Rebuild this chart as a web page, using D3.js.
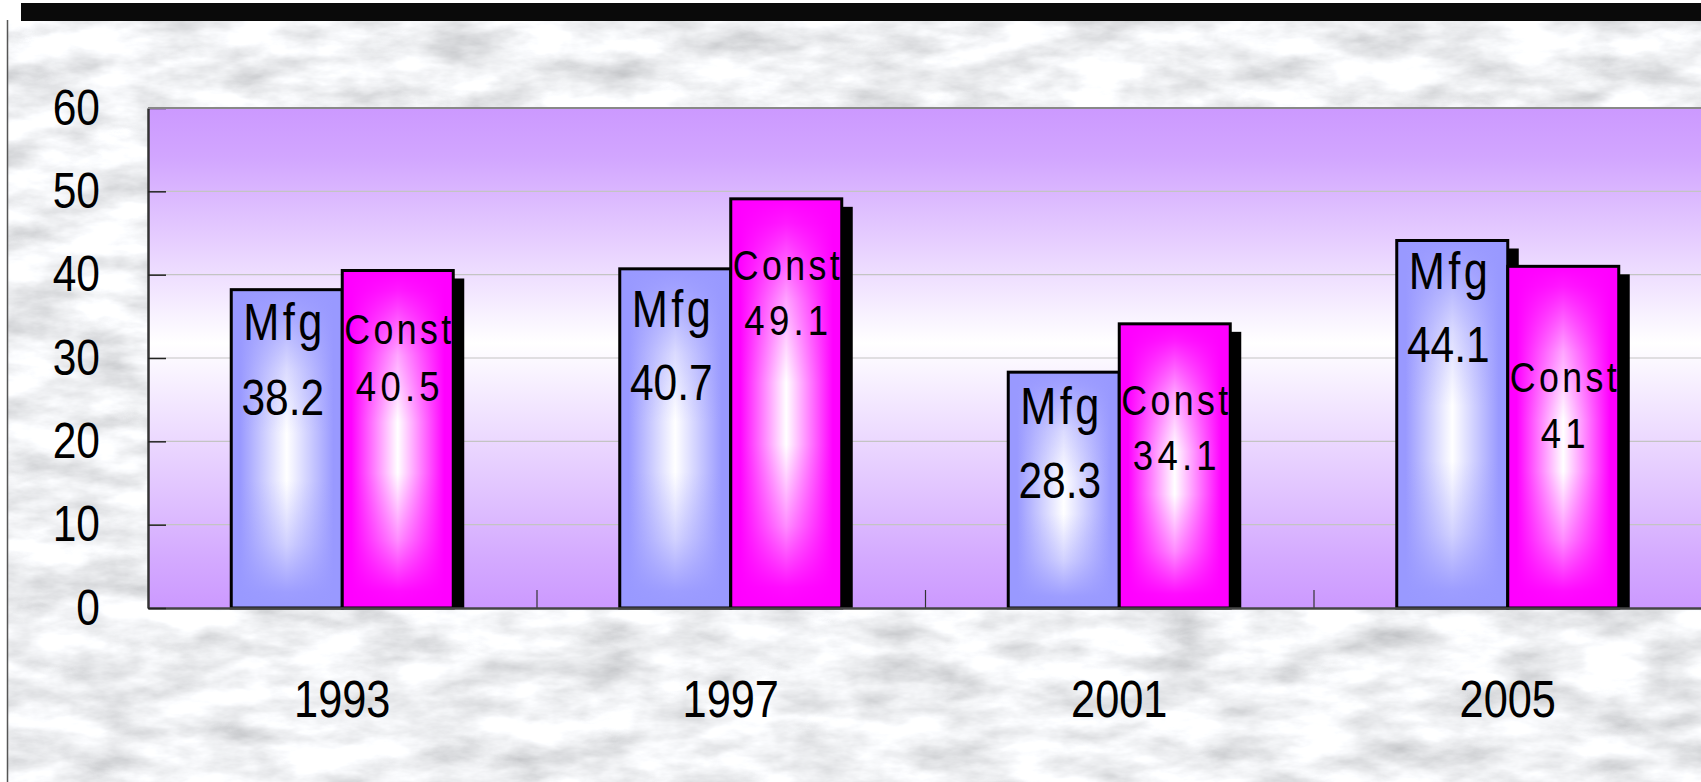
<!DOCTYPE html>
<html>
<head>
<meta charset="utf-8">
<script src="https://cdn.jsdelivr.net/npm/d3@7"></script>
<style>
  html, body { margin: 0; padding: 0; background: #fff; overflow: hidden; }
  svg { display: block; }
</style>
</head>
<body>
<script>
// values
const years = ['1993', '1997', '2001', '2005']
const series = ['Mfg', 'Const']
const mfg = [38.2, 40.7, 28.3, 44.1]
const constr = [40.5, 49.1, 34.1, 41]
const yTicks = [0, 10, 20, 30, 40, 50, 60]

const overallWidth = 1701
const overallHeight = 782
const plot = { left: 148, right: 1702, top: 108, bottom: 608 }
const font = "'Liberation Sans', Arial, sans-serif"
const squeeze = 0.85 // no narrow face installed, so condense Liberation Sans by hand

const colors = { Mfg: '#9999ff', Const: '#ff00ff' }
// label baselines below the bar top: [name, value]
const labelDrop = {
  Mfg: [[50, 125], [58, 131], [52, 126], [49, 122]],
  Const: [[74, 131], [81, 136], [91, 146], [126, 182]]
}
// [font size, letter spacing, x nudge]
const labelStyle = {
  Mfg: { name: [51, 4, -4], value: [50, 0, -4] },
  Const: { name: [42, 4, 0], value: [43, 5, 0] }
}
const shadow = { dx: 11, dy: 8 }

const rows = years.map((year, i) => ({ year, i, Mfg: mfg[i], Const: constr[i] }))

const narrow = sel => sel.each(function () {
  const t = d3.select(this)
  t.attr('x', (+t.attr('x') || 0) / squeeze)
    .attr('transform', `scale(${squeeze},1)`)
})

const svg = d3.select('body').append('svg')
  .attr('width', overallWidth)
  .attr('height', overallHeight)
  .style('font-family', font)

const defs = svg.append('defs')

// marble backdrop
const marble = defs.append('filter').attr('id', 'marble')
  .attr('x', 0).attr('y', 0).attr('width', '100%').attr('height', '100%')
marble.append('feTurbulence')
  .attr('type', 'fractalNoise')
  .attr('baseFrequency', '0.014 0.035')
  .attr('numOctaves', 5)
  .attr('seed', 11)
marble.append('feColorMatrix')
  .attr('type', 'matrix')
  .attr('values', [
    0.75, 0, 0, 0, 0.5,
    0.75, 0, 0, 0, 0.51,
    0.75, 0, 0, 0, 0.53,
    0, 0, 0, 0, 1
  ].join(' '))

const plotGrad = defs.append('linearGradient').attr('id', 'plotGrad')
  .attr('x1', 0).attr('y1', 0).attr('x2', 0).attr('y2', 1)
plotGrad.selectAll('stop')
  .data([[0, '#cc99ff'], [0.1, '#d2a6ff'], [0.47, '#ffffff'], [0.9, '#d4aaff'], [1, '#cc99ff']])
  .enter().append('stop')
  .attr('offset', d => d[0])
  .attr('stop-color', d => d[1])

series.forEach(s => {
  const h = defs.append('linearGradient').attr('id', `h-${s}`)
    .attr('x1', 0).attr('y1', 0).attr('x2', 1).attr('y2', 0)
  h.selectAll('stop')
    .data([[0, colors[s]], [0.08, colors[s]], [0.5, '#ffffff'], [0.92, colors[s]], [1, colors[s]]])
    .enter().append('stop')
    .attr('offset', d => d[0])
    .attr('stop-color', d => d[1])
  const v = defs.append('linearGradient').attr('id', `v-${s}`)
    .attr('x1', 0).attr('y1', 0).attr('x2', 0).attr('y2', 1)
  v.selectAll('stop')
    .data([[0, 1], [0.06, 0.9], [0.25, 0.35], [0.45, 0], [0.6, 0], [0.8, 0.45], [0.95, 0.95], [1, 1]])
    .enter().append('stop')
    .attr('offset', d => d[0])
    .attr('stop-color', colors[s])
    .attr('stop-opacity', d => d[1])
})

// page frame
svg.append('rect')
  .attr('x', 7).attr('y', 20)
  .attr('width', overallWidth).attr('height', overallHeight)
  .attr('filter', 'url(#marble)')
svg.append('line')
  .attr('x1', 7.5).attr('x2', 7.5).attr('y1', 20).attr('y2', overallHeight)
  .attr('stroke', '#555').attr('stroke-width', 1.5)
svg.append('rect')
  .attr('x', 21).attr('y', 3)
  .attr('width', overallWidth).attr('height', 18)
  .attr('fill', '#0a0a0a')

const x0 = d3.scaleBand().domain(years).range([plot.left, plot.right])
const x1 = d3.scaleBand().domain(series).range([0, x0.bandwidth()]).paddingOuter(0.75)
const y = d3.scaleLinear().domain([0, 60]).range([plot.bottom, plot.top])

svg.append('rect')
  .attr('x', plot.left).attr('y', plot.top)
  .attr('width', plot.right - plot.left).attr('height', plot.bottom - plot.top)
  .attr('fill', 'url(#plotGrad)')

svg.append('g').attr('class', 'grid')
  .selectAll('line')
  .data(yTicks.filter(t => t > 0 && t < 60))
  .enter().append('line')
  .attr('x1', plot.left).attr('x2', plot.right)
  .attr('y1', d => y(d)).attr('y2', d => y(d))
  .attr('stroke', '#c4c4c4').attr('stroke-width', 1.2)

// bars: shadow first, then the bar, so the next bar covers the overlap
const groups = svg.append('g').attr('class', 'bars')
  .selectAll('g')
  .data(rows).enter().append('g')
  .attr('transform', d => `translate(${x0(d.year)},0)`)

groups.each((d, i, g) => {
  const grp = d3.select(g[i])
  series.forEach(s => {
    const bx = x1(s)
    const bw = x1.bandwidth()
    const top = y(d[s])
    const bh = y(0) - top
    grp.append('rect')
      .attr('x', bx + shadow.dx).attr('y', top + shadow.dy)
      .attr('width', bw).attr('height', bh - shadow.dy)
      .attr('fill', '#000')
    grp.append('rect')
      .attr('x', bx).attr('y', top).attr('width', bw).attr('height', bh)
      .attr('fill', `url(#h-${s})`)
    grp.append('rect')
      .attr('x', bx).attr('y', top).attr('width', bw).attr('height', bh)
      .attr('fill', `url(#v-${s})`)
      .attr('stroke', '#000').attr('stroke-width', 3)
  })
})

// data labels
groups.each((d, i, g) => {
  const grp = d3.select(g[i])
  series.forEach(s => {
    const cx = x1(s) + x1.bandwidth() / 2
    const top = y(d[s])
    const st = labelStyle[s]
    grp.append('text')
      .attr('x', cx + st.name[2] + st.name[1] * squeeze / 2).attr('y', top + labelDrop[s][d.i][0])
      .attr('text-anchor', 'middle')
      .style('font-size', st.name[0] + 'px')
      .style('letter-spacing', st.name[1] + 'px')
      .text(s)
      .call(narrow)
    grp.append('text')
      .attr('x', cx + st.value[2] + st.value[1] * squeeze / 2).attr('y', top + labelDrop[s][d.i][1])
      .attr('text-anchor', 'middle')
      .style('font-size', st.value[0] + 'px')
      .style('letter-spacing', st.value[1] + 'px')
      .text(d[s])
      .call(narrow)
  })
})

// category ticks sit on the band boundaries
svg.append('g').attr('class', 'x ticks')
  .selectAll('line')
  .data(years.slice(1))
  .enter().append('line')
  .attr('x1', d => x0(d) + 0.5).attr('x2', d => x0(d) + 0.5)
  .attr('y1', plot.bottom - 18).attr('y2', plot.bottom)
  .attr('stroke', '#333').attr('stroke-width', 1.2)

svg.append('g').attr('class', 'x axis')
  .attr('transform', `translate(0,${plot.bottom})`)
  .call(d3.axisBottom(x0).tickSize(0).tickPadding(73))
  .call(g => g.select('.domain').attr('stroke', '#444').attr('stroke-width', 2.5))
  .selectAll('text')
  .style('font-family', font)
  .style('font-size', '51px')
  .attr('fill', '#000')
  .call(narrow)

svg.append('g').attr('class', 'y axis')
  .attr('transform', `translate(${plot.left},0)`)
  .call(d3.axisLeft(y).tickValues(yTicks).tickSizeInner(-18).tickSizeOuter(0).tickPadding(48))
  .call(g => g.select('.domain').attr('stroke', '#333').attr('stroke-width', 2.5))
  .call(g => g.selectAll('.tick line').attr('stroke', '#222').attr('stroke-width', 1.5))
  .selectAll('text')
  .style('font-family', font)
  .style('font-size', '50px')
  .attr('fill', '#000')
  .call(narrow)

svg.append('line')
  .attr('x1', plot.left).attr('x2', plot.right)
  .attr('y1', plot.top).attr('y2', plot.top)
  .attr('stroke', '#888').attr('stroke-width', 2)
</script>
</body>
</html>
